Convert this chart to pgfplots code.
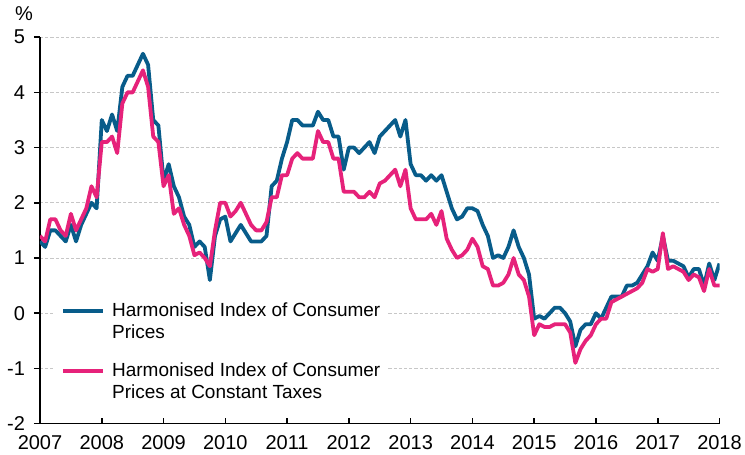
\documentclass[border=0pt]{standalone}
\usepackage{fontspec}
\setmainfont{Liberation Sans}
\usepackage{pgfplots}
\usepackage{pgfplotstable}
\pgfplotsset{compat=1.18}

\definecolor{hicp}{RGB}{8,92,138}
\definecolor{hicpct}{RGB}{230,34,122}

% month index (0 = Jan 2007), HICP, HICP at constant taxes
\pgfplotstableread{
m hicp ct
0 1.3 1.4
1 1.2 1.3
2 1.5 1.7
3 1.5 1.7
4 1.4 1.5
5 1.3 1.4
6 1.6 1.8
7 1.3 1.5
8 1.6 1.7
9 1.8 1.9
10 2.0 2.3
11 1.9 2.1
12 3.5 3.1
13 3.3 3.1
14 3.6 3.2
15 3.3 2.9
16 4.1 3.8
17 4.3 4.0
18 4.3 4.0
19 4.5 4.2
20 4.7 4.4
21 4.5 4.1
22 3.5 3.2
23 3.4 3.1
24 2.4 2.3
25 2.7 2.5
26 2.3 1.8
27 2.1 1.9
28 1.75 1.6
29 1.6 1.4
30 1.2 1.05
31 1.3 1.1
32 1.2 1.0
33 0.6 0.85
34 1.4 1.5
35 1.7 2.0
36 1.75 2.0
37 1.3 1.75
38 1.45 1.85
39 1.6 2.0
40 1.45 1.8
41 1.3 1.6
42 1.3 1.5
43 1.3 1.5
44 1.4 1.65
45 2.3 2.1
46 2.4 2.1
47 2.8 2.5
48 3.1 2.5
49 3.5 2.8
50 3.5 2.9
51 3.4 2.8
52 3.4 2.8
53 3.4 2.8
54 3.65 3.3
55 3.5 3.1
56 3.5 3.1
57 3.2 2.8
58 3.2 2.8
59 2.6 2.2
60 3.0 2.2
61 3.0 2.2
62 2.9 2.1
63 3.0 2.1
64 3.1 2.2
65 2.9 2.1
66 3.2 2.35
67 3.3 2.4
68 3.4 2.5
69 3.5 2.6
70 3.2 2.3
71 3.5 2.6
72 2.7 1.9
73 2.5 1.7
74 2.5 1.7
75 2.4 1.7
76 2.5 1.8
77 2.4 1.6
78 2.5 1.85
79 2.2 1.35
80 1.9 1.15
81 1.7 1.0
82 1.75 1.05
83 1.9 1.15
84 1.9 1.35
85 1.85 1.2
86 1.6 0.85
87 1.4 0.8
88 1.0 0.5
89 1.05 0.5
90 1.0 0.55
91 1.2 0.7
92 1.5 1.0
93 1.2 0.7
94 1.0 0.6
95 0.7 0.3
96 -0.1 -0.4
97 -0.05 -0.2
98 -0.1 -0.25
99 0.0 -0.25
100 0.1 -0.2
101 0.1 -0.2
102 0.0 -0.2
103 -0.15 -0.35
104 -0.6 -0.9
105 -0.3 -0.65
106 -0.2 -0.5
107 -0.2 -0.4
108 0.0 -0.2
109 -0.1 -0.1
110 0.1 -0.1
111 0.3 0.2
112 0.3 0.25
113 0.3 0.3
114 0.5 0.35
115 0.5 0.4
116 0.55 0.45
117 0.7 0.55
118 0.85 0.8
119 1.1 0.75
120 0.95 0.8
121 1.4 1.45
122 0.95 0.8
123 0.95 0.85
124 0.9 0.8
125 0.85 0.75
126 0.65 0.6
127 0.8 0.7
128 0.8 0.65
129 0.5 0.4
130 0.9 0.8
131 0.6 0.5
132 0.9 0.5
}\datatable

\begin{document}
\begin{tikzpicture}[font=\fontsize{9.5}{11}\selectfont]
\begin{axis}[
    scale only axis,
    width=339.75pt,
    height=193.2pt,
    xmin=0, xmax=132,
    ymin=-2, ymax=5,
    axis lines=left,
    axis line style={-, black, line width=0.8pt},
    xtick={0,12,...,132},
    xticklabels={2007,2008,2009,2010,2011,2012,2013,2014,2015,2016,2017,2018},
    ytick={-2,-1,0,1,2,3,4,5},
    tick align=inside,
    major tick length=3pt,
    tick style={black, line width=0.8pt},
    y tick style={xshift=-3pt},
    tick label style={font=\fontsize{10}{12}\selectfont},
    yticklabel style={xshift=-4pt},
    xticklabel style={yshift=-2.5pt},
    /pgf/number format/assume math mode=true,
    ymajorgrids,
    grid style={dash pattern=on 1.6pt off 1pt, black!22, line width=0.45pt},
    legend cell align=left,
    legend image code/.code={\draw[#1] (0pt,5.5pt) -- (20pt,5.5pt);},
    legend style={
        draw=none, fill=white, inner sep=4pt,
        at={(0.019,0.335)}, anchor=north west,
        row sep=10.5pt, column sep=3.5pt,
        nodes={align=left, inner sep=0pt}
    },
]
\addplot[hicp, line width=1.9pt, line join=round] table[x=m, y=hicp] {\datatable};
\addlegendentry{Harmonised Index of Consumer\\Prices}
\addplot[hicpct, line width=1.9pt, line join=round] table[x=m, y=ct] {\datatable};
\addlegendentry{Harmonised Index of Consumer\\Prices at Constant Taxes}
\end{axis}
\node[font=\fontsize{10}{12}\selectfont] at ([xshift=-8pt, yshift=11.6pt]current axis.north west) {\%};
\pgfresetboundingbox
\path[use as bounding box] ([xshift=-20pt,yshift=-15.7pt]current axis.south west) rectangle ([xshift=12.75pt,yshift=18.6pt]current axis.north east);
\end{tikzpicture}
\end{document}
